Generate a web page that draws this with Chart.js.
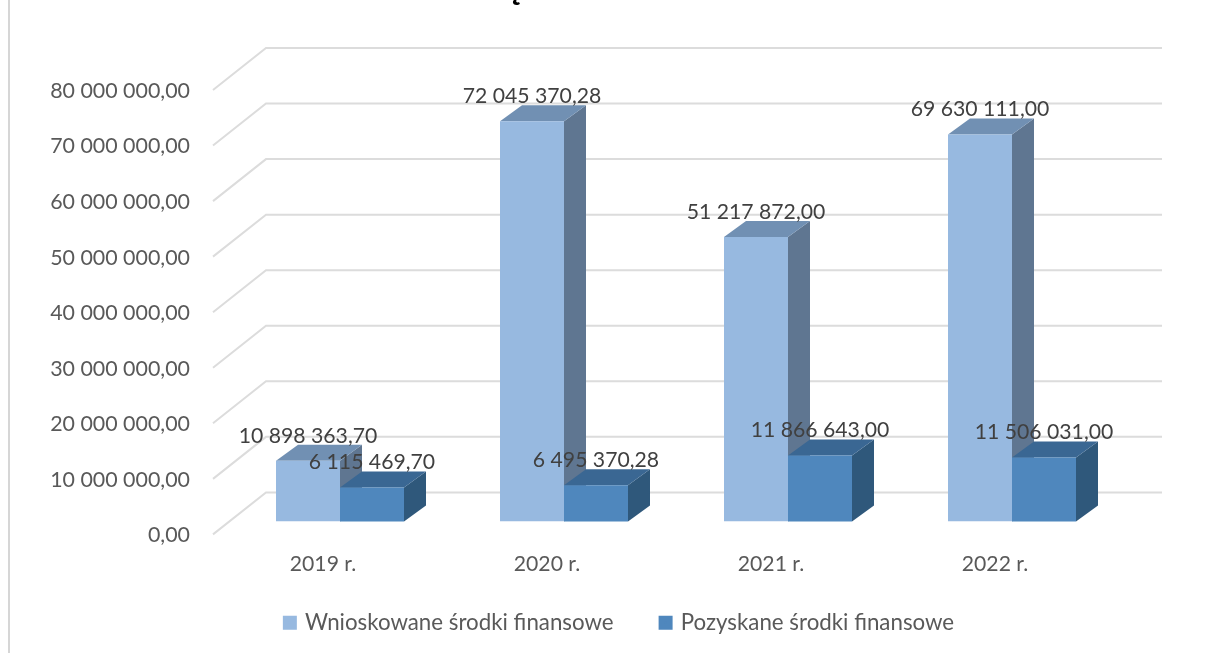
<!DOCTYPE html>
<html>
<head>
<meta charset="utf-8">
<title>Środki finansowe</title>
<script src="https://cdn.jsdelivr.net/npm/chart.js@4/dist/chart.umd.min.js"></script>
<style>
    html, body { margin: 0; padding: 0; background: #fff; overflow: hidden; }
    canvas { display: block; }
</style>
</head>
<body>
<canvas id="myChart" width="1208" height="653"></canvas>
<script>
var categories = ["2019 r.", "2020 r.", "2021 r.", "2022 r."];
var requested = [10898363.70, 72045370.28, 51217872.00, 69630111.00];
var obtained = [6115469.70, 6495370.28, 11866643.00, 11506031.00];
var seriesNames = ["Wnioskowane środki finansowe", "Pozyskane środki finansowe"];
var yTicks = [0, 10000000, 20000000, 30000000, 40000000, 50000000, 60000000, 70000000, 80000000];

var fontName = "Lato, 'Open Sans', sans-serif";

// 10898363.7 -> "10 898 363,70"
function money(v) {
    var parts = v.toFixed(2).split(".");
    return parts[0].replace(/\B(?=(\d{3})+$)/g, " ") + "," + parts[1];
}

function drawFaces(chart, index) {
    var ctx = chart.ctx;
    var ds = chart.data.datasets[index];
    var dx = 22, dy = 16;
    chart.getDatasetMeta(index).data.forEach(function (bar) {
        var l = bar.x - bar.width / 2;
        var r = bar.x + bar.width / 2;
        ctx.fillStyle = ds.sideColor;
        ctx.beginPath();
        ctx.moveTo(r, bar.y);
        ctx.lineTo(r + dx, bar.y - dy);
        ctx.lineTo(r + dx, bar.base - dy);
        ctx.lineTo(r, bar.base);
        ctx.closePath();
        ctx.fill();
        ctx.fillStyle = ds.topColor;
        ctx.beginPath();
        ctx.moveTo(l, bar.y);
        ctx.lineTo(l + dx, bar.y - dy);
        ctx.lineTo(r + dx, bar.y - dy);
        ctx.lineTo(r, bar.y);
        ctx.closePath();
        ctx.fill();
    });
}

// side and top faces. Chart.js paints the last dataset first, here the second
// series has to cover the first one, so it is held back and painted afterwards
var bars3d = {
    id: 'bars3d',
    beforeDatasetDraw: function (chart, args) {
        if (args.index === 1) {
            return false;
        }
        drawFaces(chart, 0);
    },
    afterDatasetDraw: function (chart, args) {
        if (args.index === 0) {
            drawFaces(chart, 1);
            chart.getDatasetMeta(1).controller.draw();
        }
    }
};

// wall and floor lines, page border, clipped title remnant
var backdrop = {
    id: 'backdrop',
    // the x labels sit under the top of the legend box and get clipped otherwise
    afterLayout: function (chart) {
        chart.scales.x.bottom = 600;
    },
    beforeDatasetsDraw: function (chart) {
        var ctx = chart.ctx;
        var y = chart.scales.y;
        ctx.save();
        ctx.fillStyle = '#d6d6d6';
        ctx.fillRect(8, 0, 2, 653);
        ctx.strokeStyle = '#dcdcdc';
        ctx.lineWidth = 2;
        yTicks.forEach(function (t) {
            var p = y.getPixelForValue(t);
            ctx.beginPath();
            ctx.moveTo(213, p + 13);
            ctx.lineTo(266, p - 29);
            ctx.lineTo(1162, p - 29);
            ctx.stroke();
        });
        ctx.fillStyle = '#000';
        ctx.font = "bold 36px " + fontName;
        ctx.textAlign = 'center';
        ctx.textBaseline = 'alphabetic';
        ctx.fillText("ę", 515, -1);
        ctx.restore();
    }
};

var valueLabels = {
    id: 'valueLabels',
    afterDatasetsDraw: function (chart) {
        var ctx = chart.ctx;
        ctx.save();
        ctx.font = "21.2px " + fontName;
        ctx.fillStyle = '#404040';
        ctx.textAlign = 'center';
        ctx.textBaseline = 'middle';
        chart.data.datasets.forEach(function (ds, i) {
            chart.getDatasetMeta(i).data.forEach(function (bar, j) {
                ctx.fillText(money(ds.data[j]), bar.x, bar.y - 25);
            });
        });
        ctx.restore();
    }
};

new Chart(document.getElementById("myChart"), {
    type: 'bar',
    data: {
        labels: categories,
        datasets: [{
            label: seriesNames[0],
            data: requested,
            backgroundColor: '#97b9e0',
            topColor: '#7190b3',
            sideColor: '#5f7691'
        }, {
            label: seriesNames[1],
            data: obtained,
            backgroundColor: '#4f87bd',
            topColor: '#3a6793',
            sideColor: '#2f587b'
        }]
    },
    options: {
        responsive: false,
        animation: false,
        categoryPercentage: 0.5714,
        barPercentage: 1,
        layout: {
            padding: { left: 32, right: 0, top: 77, bottom: 9 }
        },
        plugins: {
            title: { display: false },
            tooltip: { enabled: false },
            legend: {
                position: 'bottom',
                labels: {
                    // small box with a thick border: keeps the text close to the box
                    boxWidth: 8,
                    boxHeight: 8,
                    padding: 48,
                    color: '#595959',
                    font: { family: fontName, size: 22.3 },
                    generateLabels: function (chart) {
                        var items = Chart.defaults.plugins.legend.labels.generateLabels(chart);
                        items.forEach(function (item) {
                            item.strokeStyle = item.fillStyle;
                            item.lineWidth = 6;
                        });
                        return items;
                    }
                }
            }
        },
        scales: {
            x: {
                border: { display: false },
                grid: { display: false, drawTicks: false },
                afterFit: function (scale) { scale.height = 42.3; },
                ticks: {
                    color: '#595959',
                    font: { family: fontName, size: 21.2 },
                    padding: 30,
                    labelOffset: -17,
                    maxRotation: 0
                }
            },
            y: {
                min: 0,
                max: 80000000,
                border: { display: false },
                grid: { display: false, drawTicks: false },
                afterFit: function (scale) { scale.width = 196; },
                afterBuildTicks: function (scale) {
                    scale.ticks = yTicks.map(function (v) { return { value: v }; });
                },
                ticks: {
                    color: '#595959',
                    font: { family: fontName, size: 21.4 },
                    padding: 38,
                    labelOffset: 14,
                    callback: function (v) { return money(v); }
                }
            },
            // empty axis, only keeps the plot clear of the right edge
            spacer: {
                position: 'right',
                border: { display: false },
                grid: { display: false, drawTicks: false },
                ticks: { display: false },
                afterFit: function (scale) { scale.width = 84; }
            }
        }
    },
    plugins: [backdrop, bars3d, valueLabels]
});
</script>
</body>
</html>
